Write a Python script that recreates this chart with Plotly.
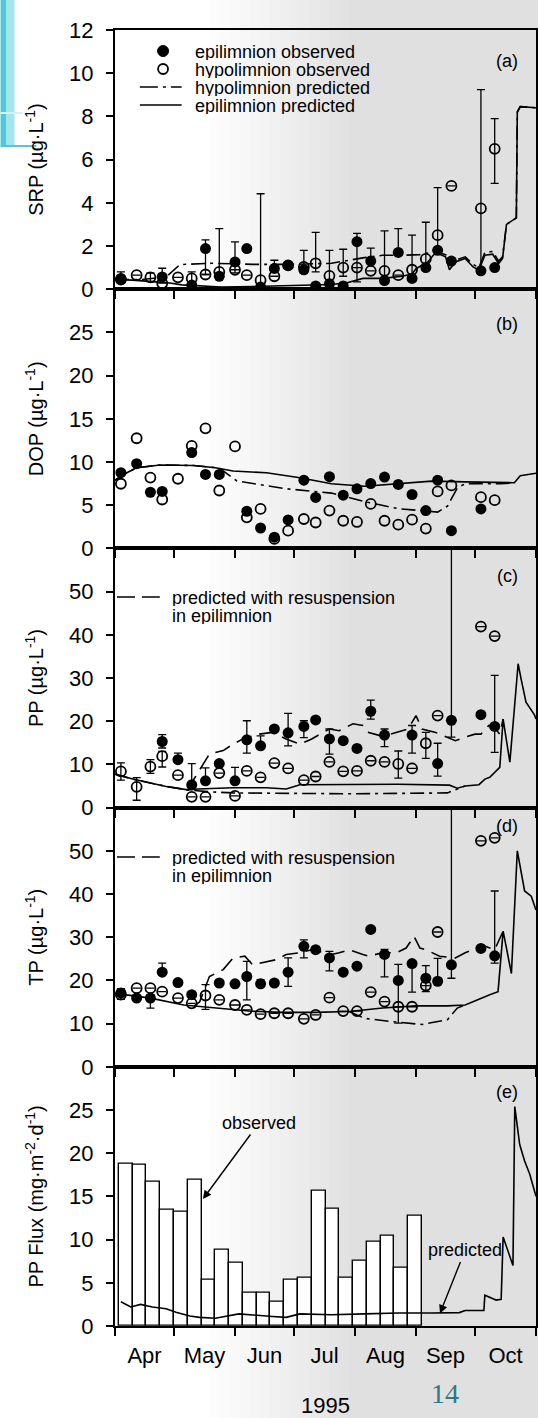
import pandas as pd
import plotly.graph_objects as go
from plotly.subplots import make_subplots

N = None

# ---------------- sampling dates (1995) ----------------
sample_dates = ["1995-04-04", "1995-04-12", "1995-04-19", "1995-04-25", "1995-05-03",
                "1995-05-10", "1995-05-17", "1995-05-24", "1995-06-01", "1995-06-07",
                "1995-06-14", "1995-06-21", "1995-06-28", "1995-07-06", "1995-07-12",
                "1995-07-19", "1995-07-26", "1995-08-02", "1995-08-09", "1995-08-16",
                "1995-08-23", "1995-08-30", "1995-09-06", "1995-09-12", "1995-09-19",
                "1995-10-04", "1995-10-11"]

# ---------------- (a) SRP ----------------
srp_epi = [0.5, N, N, 0.57, N, 0.19, 1.88, 0.6, 1.26, 1.88, 0.1, 0.96, 1.1, 0.9, 0.15,
           0.25, 0.15, 2.2, 1.3, 0.4, 1.7, 0.5, 1.0, 1.8, 1.3, 0.85, 1.0]
srp_hyp = [0.45, 0.65, 0.55, 0.28, 0.55, 0.5, 0.68, 0.8, 0.9, 0.65, 0.42, 0.6, 1.1, 1.03,
           1.2, 0.62, 1.0, 1.0, 0.85, 0.85, 0.65, 0.9, 1.4, 2.5, 4.78, 3.74, 6.5]
srp_epi_err_up = [N, N, N, 0.4, N, N, 0.4, N, 0.93, N, N, 0.38, N, N, N, N, N, 0.38, 0.6,
                  N, 1.1, N, N, N, N, N, N]
srp_epi_err_dn = [N, N, N, 0, N, N, 1.2, N, 0.5, N, N, 0, N, N, N, N, N, 1.86, 0,
                  N, 0, N, N, N, N, N, N]
srp_hyp_err_up = [0.35, N, 0.2, N, N, 0.3, N, 2.0, N, N, 4.0, N, N, 0.77, 1.43, 1.18, 0.85,
                  N, N, 1.85, N, 1.6, 1.7, 2.2, N, 5.5, 1.4]
srp_hyp_err_dn = [0.15, N, 0.2, N, N, 0.3, N, 0.3, N, N, 0.3, N, N, 0.3, 0.4, 0.3, 0.4,
                  N, N, 0.3, N, 0.4, 0.4, 0.6, N, 2.9, 1.6]
srp_epi_pred_t = ["1995-04-01", "1995-04-10", "1995-04-20", "1995-04-28", "1995-05-05",
                  "1995-05-15", "1995-05-25", "1995-06-10", "1995-06-25", "1995-07-05",
                  "1995-07-20", "1995-07-28", "1995-08-05", "1995-08-15", "1995-08-25",
                  "1995-08-30", "1995-09-01", "1995-09-07", "1995-09-11", "1995-09-16",
                  "1995-09-18", "1995-09-21", "1995-09-26", "1995-09-30", "1995-10-03",
                  "1995-10-06", "1995-10-10", "1995-10-13", "1995-10-15", "1995-10-17",
                  "1995-10-20", "1995-10-22", "1995-10-22 12:00", "1995-10-24", "1995-11-01"]
srp_epi_pred_v = [0.45, 0.42, 0.35, 0.3, 0.2, 0.15, 0.1, 0.12, 0.15, 0.2, 0.22, 0.3, 0.5,
                  0.5, 0.6, 0.7, 0.95, 1.26, 1.7, 1.5, 0.9, 1.26, 1.42, 1.03, 0.88, 1.57,
                  1.62, 1.19, 1.42, 3.0, 3.2, 3.3, 8.2, 8.45, 8.4]
srp_hyp_pred_t = ["1995-04-01", "1995-04-15", "1995-04-27", "1995-05-04", "1995-05-20",
                  "1995-06-10", "1995-07-01", "1995-07-20", "1995-08-05", "1995-08-15",
                  "1995-08-25", "1995-09-03", "1995-09-11", "1995-09-16", "1995-09-21",
                  "1995-09-26", "1995-09-30", "1995-10-03", "1995-10-06", "1995-10-10",
                  "1995-10-13", "1995-10-15", "1995-10-17", "1995-10-20", "1995-10-22",
                  "1995-10-22 12:00", "1995-10-24", "1995-11-01"]
srp_hyp_pred_v = [0.45, 0.45, 0.57, 1.14, 1.2, 1.15, 1.15, 1.2, 1.45, 1.57, 1.57, 1.6,
                  1.75, 1.6, 1.35, 1.5, 1.15, 1.0, 1.7, 1.75, 1.3, 1.5, 3.0, 3.2, 3.3,
                  8.2, 8.45, 8.4]

# ---------------- (b) DOP ----------------
dop_epi = [8.76, 9.8, 6.5, 6.6, N, 11.1, 8.56, 8.56, N, 4.3, 2.36, 1.3, 3.3, 7.9, 5.9,
           8.3, 6.16, 6.9, 7.5, 8.26, 7.4, 6.24, 4.38, 7.9, 2.05, 4.57, N]
dop_hyp = [7.48, 12.75, 8.2, 5.66, 8.06, 11.86, 13.9, 6.7, 11.8, 3.6, 4.57, 1.1, 2.05,
           3.4, 3.0, 4.38, 3.2, 3.06, 5.15, 3.2, 2.75, 3.33, 2.29, 6.6, 7.29, 5.93, 5.58]
dop_epi_pred_t = ["1995-04-01", "1995-04-07", "1995-04-12", "1995-04-24", "1995-05-11",
                  "1995-05-22", "1995-05-31", "1995-06-17", "1995-07-04", "1995-07-20",
                  "1995-08-06", "1995-08-23", "1995-09-09", "1995-09-26", "1995-10-21",
                  "1995-10-24", "1995-11-01"]
dop_epi_pred_v = [7.9, 8.76, 9.34, 9.65, 9.6, 9.34, 8.95, 8.76, 8.18, 7.48, 7.2, 7.48,
                  7.79, 7.7, 7.6, 8.4, 8.7]
dop_hyp_pred_t = ["1995-04-01", "1995-04-07", "1995-04-12", "1995-04-24", "1995-05-11",
                  "1995-05-24", "1995-06-02", "1995-06-27", "1995-07-20", "1995-08-06",
                  "1995-08-23", "1995-09-12", "1995-09-17", "1995-09-22", "1995-09-26",
                  "1995-10-14", "1995-10-21"]
dop_hyp_pred_v = [7.9, 8.76, 9.34, 9.65, 9.6, 9.3, 7.8, 6.9, 6.4, 5.4, 4.6, 4.2, 4.9,
                  7.0, 7.48, 7.48, 7.6]

# ---------------- (c) PP ----------------
pp_epi = [N, N, N, 15.3, 11.1, 5.27, 6.2, 10.2, 6.2, 15.7, 14.3, 18.2, 17.3, 18.8, 20.3,
          15.9, 15.5, 13.7, 22.3, 16.8, N, 16.8, N, 10.2, 20.2, 21.5, 18.8]
pp_hyp = [8.37, 4.8, 9.5, 11.9, 7.5, 2.5, 2.5, 8.0, 2.7, 8.5, 7.0, 10.3, 9.07, 6.35, 7.2,
          10.6, 8.4, 8.5, 10.85, 10.6, 10.1, 9.07, 14.9, 21.3, N, 41.9, 39.7]
pp_epi_err_up = [N, N, N, 1.6, 1.5, 4.9, 3.0, N, 3.1, 4.4, 2.3, N, 4.5, 1.3, N, 2.3, N,
                 N, 2.6, 1.4, N, 2.2, N, 4.7, 50, N, 11.8]
pp_epi_err_dn = [N, N, N, 1.5, 0, 0, 0, N, 0, 3.1, 0, N, 3.0, 2.6, N, 3.5, N,
                 N, 1.8, 2.7, N, 4.2, N, 2.9, 3.9, N, 6.0]
pp_hyp_err_up = [2.0, 2.15, 1.6, 1.1, N, N, N, N, N, N, N, N, N, N, N, N, N, N, N, N,
                 3.0, N, 2.5, N, N, N, N]
pp_hyp_err_dn = [2.0, 3.1, 1.6, 2.5, N, N, N, N, N, N, N, N, N, N, N, N, N, N, N, N,
                 3.3, N, 3.5, N, N, N, N]
pp_epi_pred_t = ["1995-04-01", "1995-04-10", "1995-04-27", "1995-05-08", "1995-05-13",
                 "1995-05-31", "1995-06-17", "1995-06-27", "1995-07-04", "1995-07-21",
                 "1995-08-23", "1995-09-18", "1995-09-22", "1995-09-26", "1995-10-03",
                 "1995-10-06", "1995-10-08 12:00", "1995-10-13 14:00", "1995-10-15 07:00",
                 "1995-10-18 17:00", "1995-10-22 22:00", "1995-10-24 10:00",
                 "1995-10-26 22:00", "1995-10-31 07:00", "1995-11-01"]
pp_epi_pred_v = [7.75, 6.6, 4.9, 4.1, 4.3, 4.6, 4.6, 4.3, 5.3, 5.3, 5.4, 5.2, 4.5, 5.0,
                 5.3, 6.6, 7.0, 9.3, 20.5, 10.5, 33.3, 29.8, 24.4, 21.4, 20.5]
pp_hyp_pred_t = ["1995-04-01", "1995-04-10", "1995-04-27", "1995-05-08", "1995-05-21",
                 "1995-05-31", "1995-06-29", "1995-07-29", "1995-08-28", "1995-09-17",
                 "1995-09-22", "1995-09-26"]
pp_hyp_pred_v = [7.75, 6.6, 4.9, 4.1, 3.6, 3.4, 3.3, 3.2, 3.3, 3.4, 4.3, 5.0]
pp_res_pred_t = ["1995-05-08", "1995-05-11", "1995-05-19", "1995-05-26", "1995-05-31",
                 "1995-06-05", "1995-06-13", "1995-06-20", "1995-06-27", "1995-07-04",
                 "1995-07-10", "1995-07-19", "1995-07-24", "1995-07-31", "1995-08-05",
                 "1995-08-08", "1995-08-15", "1995-08-22", "1995-08-28", "1995-09-01",
                 "1995-09-04", "1995-09-11", "1995-09-21", "1995-09-26", "1995-10-01",
                 "1995-10-04", "1995-10-08", "1995-10-11", "1995-10-13 14:00",
                 "1995-10-15 07:00"]
pp_res_pred_v = [4.1, 6.5, 12.4, 13.2, 14.7, 15.9, 17.0, 17.4, 15.9, 14.7, 15.9, 18.2,
                 17.8, 19.4, 19.0, 17.4, 16.5, 17.4, 18.2, 21.3, 18.2, 17.4, 15.5, 16.3,
                 17.0, 17.0, 19.0, 18.5, 17.0, 20.5]

# ---------------- (d) TP ----------------
tp_epi = [17.1, 15.9, 15.9, 21.9, 19.5, 16.7, N, 19.4, 19.2, 20.9, 19.2, 19.4, 21.9, 27.9,
          27.1, 25.2, 21.9, 23.3, 31.8, 26.0, 20.0, 23.9, 20.5, 19.8, 23.6, 27.4, 25.7]
tp_hyp = [16.7, 18.2, 18.2, 17.4, 15.9, 14.7, 16.5, 15.5, 14.3, 13.2, 12.2, 12.4, 12.4,
          11.1, 12.0, 16.0, 12.9, 12.9, 17.3, 15.1, 13.9, 13.9, 18.8, 31.2, N, 52.3, 53.0]
tp_epi_err_up = [1.0, N, 0.8, 2.1, N, N, N, N, N, 3.5, 1.0, N, 3.3, 1.5, N, 1.5, N, N, N,
                 1.2, 3.7, 0.3, 2.9, 5.3, 45, N, 15.0]
tp_epi_err_dn = [1.5, N, 2.3, 0, N, N, N, N, N, 5.4, 0, N, 3.3, 2.7, N, 3.0, N, N, N,
                 5.2, 9.9, 6.6, 3.1, 0, 3.1, N, 1.7]
tp_hyp_err_up = [N, N, N, N, N, N, 2.5, N, N, N, N, N, N, N, N, N, N, N, N, N, N, N, N,
                 N, N, N, N]
tp_hyp_err_dn = [N, N, N, N, N, N, 3.2, N, N, N, N, N, N, N, N, N, N, N, N, N, N, N, N,
                 N, N, N, N]
tp_epi_pred_t = ["1995-04-01", "1995-04-19", "1995-05-06", "1995-05-22", "1995-06-08",
                 "1995-06-25", "1995-07-12", "1995-07-29", "1995-08-15", "1995-09-01",
                 "1995-09-17", "1995-09-26", "1995-10-04", "1995-10-08 12:00",
                 "1995-10-12 17:00", "1995-10-15 07:00", "1995-10-19 12:00",
                 "1995-10-22 12:00", "1995-10-26 05:00", "1995-10-29 14:00", "1995-11-01"]
tp_epi_pred_v = [17.0, 15.9, 14.3, 13.6, 12.9, 12.6, 12.6, 12.8, 13.6, 14.1, 14.1, 14.3,
                 15.9, 16.7, 17.4, 31.4, 21.6, 50.0, 40.7, 39.5, 36.3]
tp_hyp_pred_t = ["1995-07-29", "1995-08-06", "1995-08-19", "1995-09-04", "1995-09-17",
                 "1995-09-22", "1995-09-26"]
tp_hyp_pred_v = [12.8, 11.2, 10.5, 9.8, 10.9, 13.6, 14.3]
tp_res_pred_t = ["1995-05-11", "1995-05-14", "1995-05-19", "1995-05-26", "1995-05-31",
                 "1995-06-06", "1995-06-10", "1995-06-17", "1995-06-22", "1995-06-27",
                 "1995-07-04", "1995-07-10", "1995-07-20", "1995-07-24", "1995-07-29",
                 "1995-08-05", "1995-08-08", "1995-08-15", "1995-08-22", "1995-08-27",
                 "1995-08-31", "1995-09-03", "1995-09-06", "1995-09-13", "1995-09-21",
                 "1995-09-26", "1995-09-30", "1995-10-04", "1995-10-11", "1995-10-15 07:00"]
tp_res_pred_v = [14.0, 15.0, 20.9, 22.5, 25.2, 25.6, 23.6, 24.4, 24.8, 26.0, 26.4, 27.1,
                 26.0, 26.4, 27.1, 26.0, 25.6, 26.4, 26.4, 27.5, 30.2, 27.5, 27.1, 25.6,
                 25.2, 26.4, 27.1, 28.3, 27.1, 31.4]

# ---------------- (e) PP flux ----------------
flux_week_start = ["1995-04-03", "1995-04-10", "1995-04-17", "1995-04-24", "1995-05-01",
                   "1995-05-08", "1995-05-15", "1995-05-22", "1995-05-29", "1995-06-05",
                   "1995-06-12", "1995-06-19", "1995-06-26", "1995-07-03", "1995-07-10",
                   "1995-07-17", "1995-07-24", "1995-07-31", "1995-08-07", "1995-08-14",
                   "1995-08-21", "1995-08-28"]
flux_observed = [18.8, 18.7, 16.7, 13.5, 13.2, 16.9, 5.3, 8.85, 7.3, 3.9, 3.85, 2.8, 5.4,
                 5.6, 15.7, 13.6, 5.6, 7.5, 9.8, 10.4, 6.7, 12.75]
flux_pred_t = ["1995-04-04", "1995-04-09", "1995-04-14", "1995-04-20", "1995-04-27",
               "1995-05-02", "1995-05-09", "1995-05-14", "1995-05-22", "1995-06-03",
               "1995-06-20", "1995-06-27", "1995-07-04", "1995-07-20", "1995-08-06",
               "1995-08-23", "1995-09-09", "1995-09-23", "1995-09-26", "1995-10-05 12:00",
               "1995-10-06", "1995-10-08 12:00", "1995-10-11 17:00", "1995-10-14 07:00",
               "1995-10-15 07:00", "1995-10-20 07:00", "1995-10-21 05:00",
               "1995-10-23 17:00", "1995-10-26 05:00", "1995-10-28 19:00",
               "1995-10-31 07:00", "1995-11-01"]
flux_pred_v = [2.8, 2.2, 2.5, 2.2, 2.0, 1.6, 1.15, 1.0, 0.9, 1.4, 1.1, 1.0, 1.4, 1.3, 1.4,
               1.5, 1.5, 1.55, 1.8, 1.8, 3.56, 3.3, 3.0, 3.1, 10.3, 7.0, 25.4, 21.0, 19.1,
               17.6, 15.6, 15.0]

# ---------------- axis text ----------------
y_titles = ["SRP (µg·L<sup>-1</sup>)", "DOP (µg·L<sup>-1</sup>)", "PP (µg·L<sup>-1</sup>)",
            "TP (µg·L<sup>-1</sup>)", "PP Flux (mg·m<sup>-2</sup>·d<sup>-1</sup>)"]
y_ranges = [[0, 12], [0, 30], [0, 60], [0, 60], [0, 30]]
y_ticks = [[0, 2, 4, 6, 8, 10, 12], [0, 5, 10, 15, 20, 25], [0, 10, 20, 30, 40, 50],
           [0, 10, 20, 30, 40, 50], [0, 5, 10, 15, 20, 25]]
panel_tags = ["(a)", "(b)", "(c)", "(d)", "(e)"]

# ---------------- figure geometry helpers ----------------
W, H = 539, 1418
ML, MR, MT, MB = 115, 1, 30, 92
PW, PH = W - ML - MR, H - MT - MB


def px(xp):
    return (xp - ML) / PW


def py(yp):
    return (H - MB - yp) / PH


FONT = "Liberation Sans, Arial, Helvetica, sans-serif"
DASHDOT = "14px,5px,3px,5px"
LONGDASH = "16px,8px"

fig = make_subplots(rows=5, cols=1, shared_xaxes=True, vertical_spacing=0)


def add_line(row, t, v, dash="solid"):
    fig.add_trace(go.Scatter(x=t, y=v, mode="lines", line=dict(color="black", width=1.6,
                                                               dash=dash),
                             hoverinfo="skip"), row=row, col=1)


def err(up, dn):
    if up is None:
        return dict(visible=False)
    return dict(type="data", symmetric=False, array=up, arrayminus=dn, color="black",
                thickness=1.3, width=4, visible=True)


def add_points(row, vals, filled, up=None, dn=None):
    marker = (dict(symbol="circle", size=11, color="black") if filled else
              dict(symbol="circle-open", size=10, color="black", line=dict(width=1.8)))
    fig.add_trace(go.Scatter(x=sample_dates, y=vals, mode="markers", marker=marker,
                             error_y=err(up, dn), hoverinfo="skip"), row=row, col=1)


# (a)
add_line(1, srp_hyp_pred_t, srp_hyp_pred_v, DASHDOT)
add_line(1, srp_epi_pred_t, srp_epi_pred_v)
add_points(1, srp_hyp, False, srp_hyp_err_up, srp_hyp_err_dn)
add_points(1, srp_epi, True, srp_epi_err_up, srp_epi_err_dn)
# (b)
add_line(2, dop_hyp_pred_t, dop_hyp_pred_v, DASHDOT)
add_line(2, dop_epi_pred_t, dop_epi_pred_v)
add_points(2, dop_hyp, False)
add_points(2, dop_epi, True)
# (c)
add_line(3, pp_hyp_pred_t, pp_hyp_pred_v, DASHDOT)
add_line(3, pp_res_pred_t, pp_res_pred_v, LONGDASH)
add_line(3, pp_epi_pred_t, pp_epi_pred_v)
add_points(3, pp_hyp, False, pp_hyp_err_up, pp_hyp_err_dn)
add_points(3, pp_epi, True, pp_epi_err_up, pp_epi_err_dn)
# (d)
add_line(4, tp_hyp_pred_t, tp_hyp_pred_v, DASHDOT)
add_line(4, tp_res_pred_t, tp_res_pred_v, LONGDASH)
add_line(4, tp_epi_pred_t, tp_epi_pred_v)
add_points(4, tp_hyp, False, tp_hyp_err_up, tp_hyp_err_dn)
add_points(4, tp_epi, True, tp_epi_err_up, tp_epi_err_dn)
# (e) weekly bars centred on each week
week = pd.Timedelta(days=7)
bar_centres = [pd.Timestamp(d) + week / 2 for d in flux_week_start]
fig.add_trace(go.Bar(x=bar_centres, y=flux_observed, width=week.total_seconds() * 1000,
                     marker=dict(color="white", line=dict(color="black", width=1.4)),
                     hoverinfo="skip"), row=5, col=1)
add_line(5, flux_pred_t, flux_pred_v)

# ---------------- axes ----------------
for r in range(1, 6):
    fig.update_xaxes(type="date", range=["1995-04-01", "1995-11-01"], dtick="M1",
                     tick0="1995-04-01", tickformat="%b", ticklabelmode="period",
                     ticks="outside", ticklen=8, tickwidth=1.5, tickcolor="black",
                     showline=True, linewidth=2, linecolor="black", mirror=True,
                     showgrid=False, zeroline=False, showticklabels=(r == 5),
                     ticklabelstandoff=1, tickfont=dict(size=22, family=FONT),
                     row=r, col=1)
    fig.update_yaxes(range=y_ranges[r - 1], tickvals=y_ticks[r - 1], ticks="outside",
                     ticklen=7, tickwidth=1.5, tickcolor="black", showline=True,
                     linewidth=2, linecolor="black", mirror=True, showgrid=False,
                     zeroline=False, ticklabelstandoff=8,
                     tickfont=dict(size=22, family=FONT),
                     title=dict(text=y_titles[r - 1], font=dict(size=20, family=FONT),
                                standoff=20),
                     row=r, col=1)

# ---------------- decorations ----------------
shapes = []
# light scan tone that deepens to the right
for i in range(34):
    x0 = 200 + i * 10
    a = min(1.0, (x0 - 200) / 150) * 0.12
    shapes.append(dict(type="rect", xref="paper", yref="paper", x0=px(x0), x1=px(x0 + 10),
                       y0=py(H), y1=py(0), fillcolor=f"rgba(0,0,0,{a:.4f})",
                       line=dict(width=0), layer="below"))
# slide border in the corner
shapes.append(dict(type="rect", xref="paper", yref="paper", x0=px(0), x1=px(6),
                   y0=py(146), y1=py(0), fillcolor="#4fc9d8", line=dict(width=0)))
shapes.append(dict(type="rect", xref="paper", yref="paper", x0=px(6), x1=px(14),
                   y0=py(146), y1=py(0), fillcolor="#a4e4ec", line=dict(width=0)))
shapes.append(dict(type="line", xref="paper", yref="paper", x0=px(0), x1=px(36),
                   y0=py(146), y1=py(146), line=dict(color="#55c6d5", width=2)))
shapes.append(dict(type="line", xref="paper", yref="paper", x0=px(0), x1=px(22),
                   y0=py(113), y1=py(113), line=dict(color="#d4f1f5", width=2)))
# legend glyphs of panel (a)
r = 5.5
shapes.append(dict(type="circle", xref="paper", yref="paper", x0=px(163.3 - r),
                   x1=px(163.3 + r), y0=py(51 + r), y1=py(51 - r), fillcolor="black",
                   line=dict(color="black", width=1)))
r = 5
shapes.append(dict(type="circle", xref="paper", yref="paper", x0=px(163.3 - r),
                   x1=px(163.3 + r), y0=py(69 + r), y1=py(69 - r),
                   line=dict(color="black", width=1.8)))
shapes.append(dict(type="line", xref="paper", yref="paper", x0=px(140), x1=px(182),
                   y0=py(87), y1=py(87), line=dict(color="black", width=1.6,
                                                    dash="18px,5px,3px,5px")))
shapes.append(dict(type="line", xref="paper", yref="paper", x0=px(140), x1=px(182),
                   y0=py(105), y1=py(105), line=dict(color="black", width=1.6)))
# resuspension glyphs of panels (c) and (d)
for yl in (597, 857):
    shapes.append(dict(type="line", xref="paper", yref="paper", x0=px(117), x1=px(160),
                       y0=py(yl), y1=py(yl), line=dict(color="black", width=1.6,
                                                        dash="18px,7px")))

ann = []


def text_at(x, y, s, size=18, xanchor="left", color="black", family=FONT, height=None):
    a = dict(x=px(x), y=py(y), xref="paper", yref="paper", text=s,
             showarrow=False, xanchor=xanchor, yanchor="middle", borderpad=0,
             font=dict(size=size, family=family, color=color))
    if height is not None:
        a["height"] = height
    ann.append(a)


legend_rows = [("epilimnion observed", 51.5), ("hypolimnion observed", 69.5),
               ("hypolimnion predicted", 87.5), ("epilimnion predicted", 105.5)]
for s, y in legend_rows:
    text_at(194, y, s, height=17)
for tag, y in zip(panel_tags, [61, 324, 576, 826, 1092]):
    text_at(509, y, tag, xanchor="center")
text_at(171.5, 597.5, "predicted with resuspension", height=17)
text_at(171.5, 615.5, "in epilimnion", height=17)
text_at(171.5, 857.5, "predicted with resuspension", height=17)
text_at(171.5, 875.5, "in epilimnion", height=17)
text_at(327, 1405, "1995", size=22, xanchor="center")
text_at(447, 1393, "14", size=28, xanchor="center", color="#2b7a8c",
        family="Liberation Serif, Times New Roman, serif")

# arrows of panel (e)
ann.append(dict(x="1995-05-15 17:00", y=14.7, xref="x5", yref="y5", text="observed",
                showarrow=True, ax=56, ay=-76, arrowhead=2, arrowsize=1.2, arrowwidth=1.4,
                arrowcolor="black", font=dict(size=18, family=FONT, color="black")))
ann.append(dict(x="1995-09-13 05:00", y=1.46, xref="x5", yref="y5", text="predicted",
                showarrow=True, ax=25, ay=-63, arrowhead=2, arrowsize=1.2, arrowwidth=1.4,
                arrowcolor="black", font=dict(size=18, family=FONT, color="black")))

fig.update_layout(width=W, height=H, margin=dict(l=ML, r=MR, t=MT, b=MB),
                  paper_bgcolor="white", plot_bgcolor="rgba(0,0,0,0)", showlegend=False,
                  bargap=0, font=dict(family=FONT, color="black", size=22),
                  shapes=shapes, annotations=ann)

fig.write_html("out.html")
